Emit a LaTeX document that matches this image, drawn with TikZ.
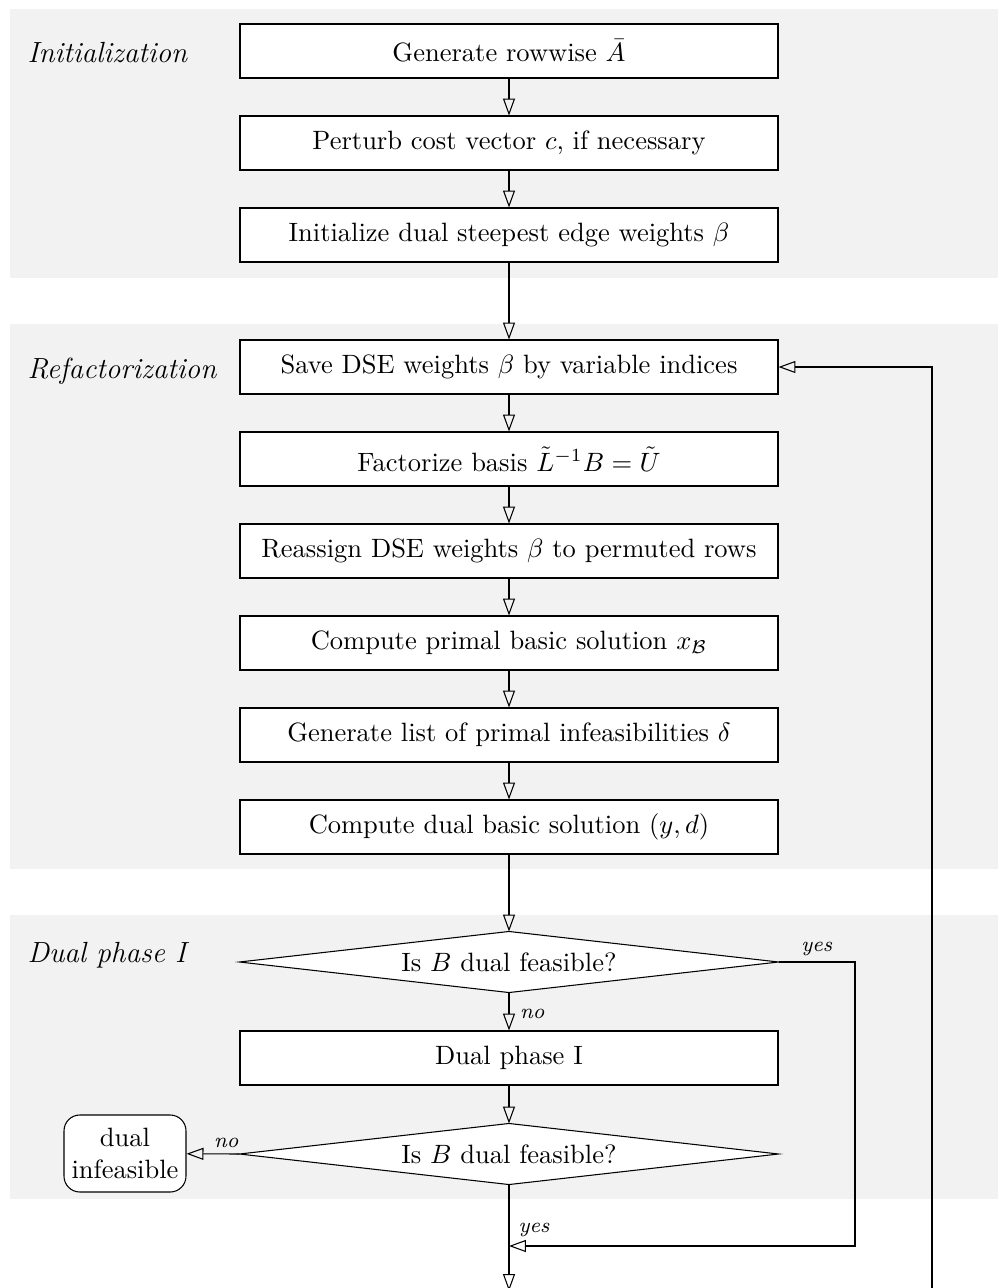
\documentclass[tikz,border=0pt]{standalone}
\usetikzlibrary{arrows.meta}
% one drawing unit of the flowchart grid
\newcommand\pxunit{0.3774pt}
\begin{document}
\begin{tikzpicture}[x=\pxunit, y=-\pxunit,
  band/.style={fill=gray!10, draw=none},
  stepbox/.style={draw, fill=white, rectangle, inner sep=0pt,
    minimum width=538*\pxunit, minimum height=54*\pxunit},
  decision/.style={rectangle, draw=none, inner sep=0pt,
    minimum width=538*\pxunit, minimum height=60*\pxunit},
  terminal/.style={draw, fill=white, rounded corners=6pt, align=center,
    inner sep=2pt, minimum width=122*\pxunit, minimum height=77*\pxunit},
  phase/.style={font=\fontsize{11}{13}\selectfont\itshape, anchor=base west, inner sep=0pt},
  lbl/.style={font=\footnotesize\itshape, inner sep=0pt},
  flow/.style={draw, -{Triangle[open, length=6.4pt, width=4.55pt]}}
]
\useasboundingbox (0,0) rectangle (998,1288);

% shaded phase bands
\fill[band] (10,9) rectangle (998,278);
\fill[band] (10,324) rectangle (998,869);
\fill[band] (10,915) rectangle (998,1199);

% phase captions
\node[phase] (pinit) at (27,63) {Initialization};
\node[phase] (pref) at (27,378) {Refactorization};
\node[phase] (pdual) at (27,962) {Dual phase I};

% initialization steps
\node[stepbox] (b1) at (509,51) {Generate rowwise $\bar{A}$};
\node[stepbox] (b2) at (509,143) {Perturb cost vector $c$, if necessary};
\node[stepbox] (b3) at (509,235) {Initialize dual steepest edge weights $\beta$};

% refactorization steps
\node[stepbox] (r1) at (509,367) {Save DSE weights $\beta$ by variable indices};
\node[stepbox] (r2) at (509,459) {Factorize basis $\tilde{L}^{-1}B = \tilde{U}$};
\node[stepbox] (r3) at (509,551) {Reassign DSE weights $\beta$ to permuted rows};
\node[stepbox] (r4) at (509,643) {Compute primal basic solution $x_{\mathcal{B}}$};
\node[stepbox] (r5) at (509,735) {Generate list of primal infeasibilities $\delta$};
\node[stepbox] (r6) at (509,827) {Compute dual basic solution $(y,d)$};

% dual phase I
\node[decision] (d1) at (509,962) {};
\fill[white, draw=black] (d1.west) -- (d1.north) -- (d1.east) -- (d1.south) -- cycle;
\node at (d1) {Is $B$ dual feasible?};
\node[stepbox] (dp) at (509,1058) {Dual phase I};
\node[decision] (d2) at (509,1154) {};
\fill[white, draw=black] (d2.west) -- (d2.north) -- (d2.east) -- (d2.south) -- cycle;
\node at (d2) {Is $B$ dual feasible?};
\node[terminal] (inf) at (125,1153.5) {dual\\infeasible};

% free ends and bends
\coordinate (ycorner) at (855,962);
\coordinate (join) at (509,1246);
\coordinate (exit) at (509,1291);
\coordinate (loop) at (932,1296);

% connectors
\draw[flow] (b1) -- (b2);
\draw[flow] (b2) -- (b3);
\draw[flow] (b3) -- (r1);
\draw[flow] (r1) -- (r2);
\draw[flow] (r2) -- (r3);
\draw[flow] (r3) -- (r4);
\draw[flow] (r4) -- (r5);
\draw[flow] (r5) -- (r6);
\draw[flow] (r6) -- (d1.north);
\draw[flow] (d1.south) -- node[lbl, anchor=west, xshift=4pt, yshift=-1pt] {no} (dp);
\draw[flow] (dp) -- (d2.north);
\draw[flow] (d2.west) -- node[lbl, above, pos=0.25, yshift=2pt] {no} (inf);
\draw[flow] (d1.east) -- node[lbl, above, yshift=2pt] {yes} (ycorner) |- (join);
\node[lbl, anchor=base west] (yes2) at (518,1232) {yes};
\draw[flow] (d2.south) -- (exit);
\draw[flow] (loop) |- (r1.east);
\end{tikzpicture}
\end{document}
